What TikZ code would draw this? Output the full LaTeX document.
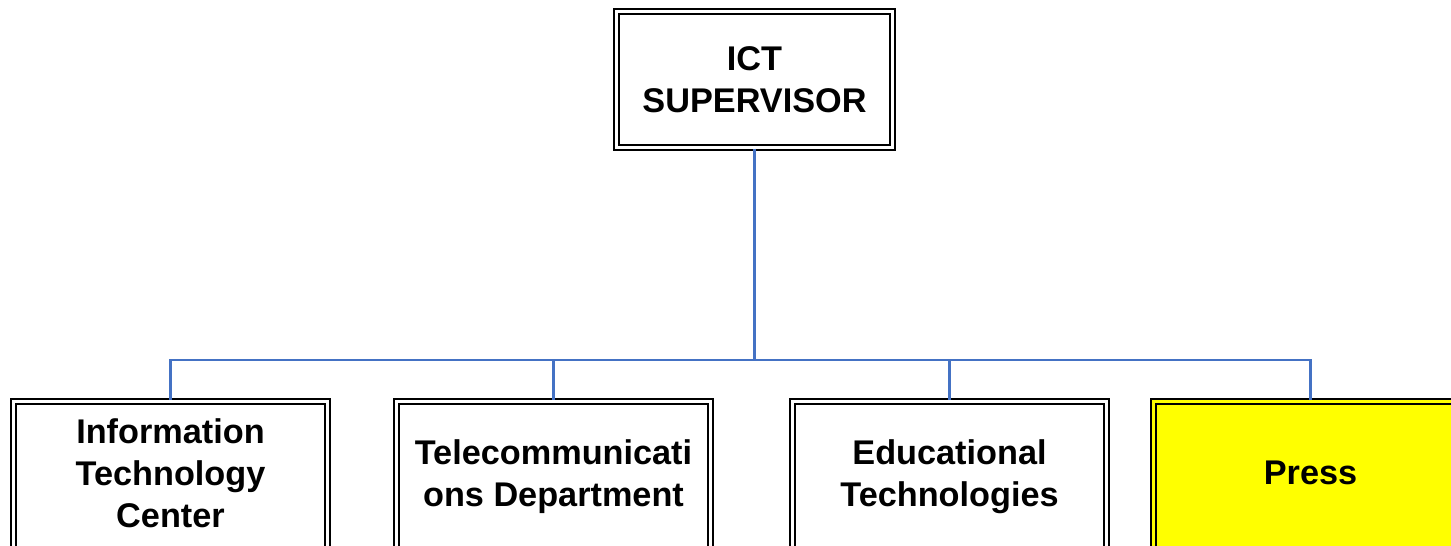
\documentclass[tikz,border=0pt]{standalone}
\usepackage{fontspec}
\setmainfont{Liberation Sans}
\definecolor{linkblue}{HTML}{4472C4}
\definecolor{pressyellow}{HTML}{FFFF00}
\tikzset{
    unitbox/.style={draw=black, line width=1.2pt, double=white, double distance=1.7pt,
        inner sep=2pt, align=center, font=\bfseries\fontsize{19.5}{23.8}\selectfont},
    topbox/.style={unitbox, minimum width=5.52cm, minimum height=2.72cm},
    deptbox/.style={unitbox, minimum width=6.28cm, minimum height=3.1cm,
        execute at end node={\rule[-6.8pt]{0pt}{0pt}}}, % lifts the text a little
    link/.style={draw=linkblue, line width=1.3pt}
}
\begin{document}
\begin{tikzpicture}[x=0.02cm, y=-0.02cm]
    \clip (0, 0) rectangle (1451, 545); % page size of the chart

    \node[topbox] (sup) at (754.5, 79.5) {ICT\\SUPERVISOR};

    \node[deptbox] (itc) at (170.5, 479) {Information\\Technology\\Center};
    \node[deptbox] (tel) at (553.5, 479) {Telecommunicati\\ons Department};
    \node[deptbox] (edu) at (949.5, 479) {Educational\\Technologies};
    \node[deptbox, fill=pressyellow, double=pressyellow] (press) at (1310.5, 479) {Press};

    \coordinate (bus) at (754.5, 360); % where the branches split
    \draw[link] (sup.south) -- (bus);

    \foreach \d in {itc, tel, edu, press} {
        \draw[link] (bus) -| (\d.north); % branch down to each department
    }

\end{tikzpicture}
\end{document}
